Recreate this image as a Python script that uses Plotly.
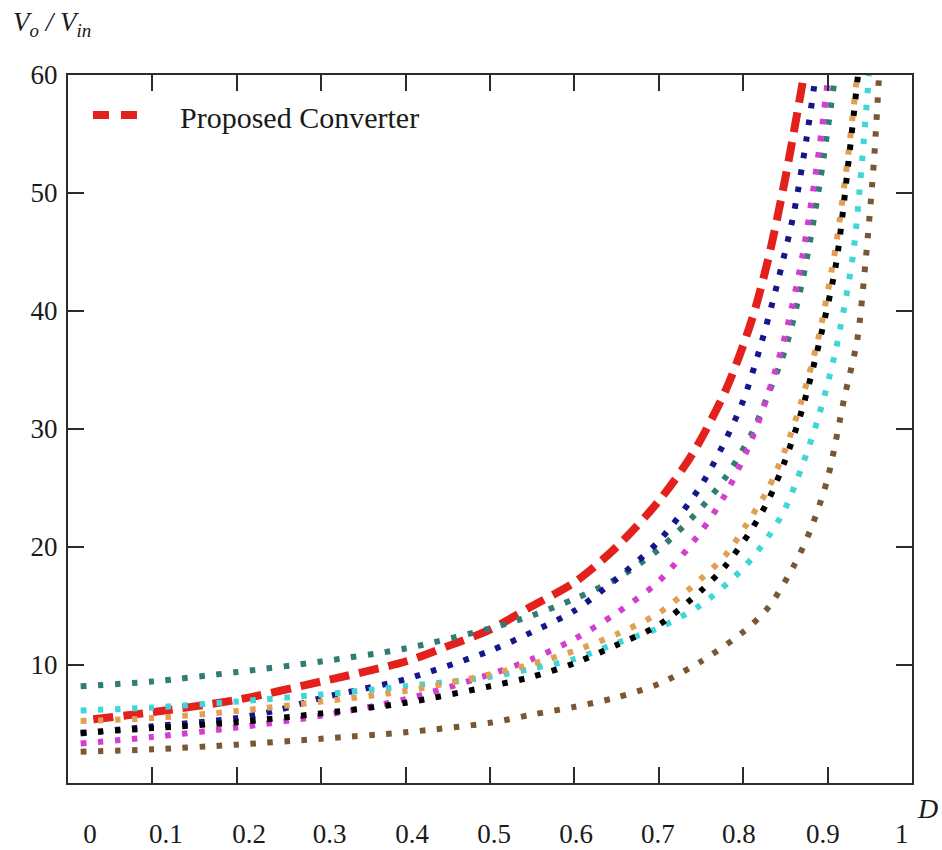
import plotly.graph_objects as go

# ---------------- data ----------------
# Proposed converter (red dashed)
d_prop = [0.03, 0.1, 0.2, 0.3, 0.4, 0.45, 0.5, 0.55, 0.6, 0.65, 0.7, 0.74, 0.78, 0.81, 0.83, 0.85, 0.872]
v_prop = [5.4, 6.0, 7.05, 8.6, 10.3, 11.6, 13.0, 15.0, 17.0, 20.0, 23.9, 27.9, 33.4, 39.2, 44.5, 51.3, 60.0]

# teal dotted
d_teal = [0.015, 0.1, 0.2, 0.3, 0.4, 0.5, 0.55, 0.6, 0.65, 0.7, 0.75, 0.78, 0.81, 0.83, 0.85, 0.87, 0.89, 0.909]
v_teal = [8.2, 8.6, 9.4, 10.3, 11.4, 13.1, 14.2, 15.6, 17.3, 19.8, 23.3, 26.0, 29.6, 33.0, 36.8, 42.5, 50.5, 60.0]

# navy dotted
d_navy = [0.015, 0.1, 0.2, 0.25, 0.3, 0.4, 0.5, 0.55, 0.6, 0.65, 0.7, 0.75, 0.78, 0.8, 0.82, 0.84, 0.86, 0.875, 0.886]
v_navy = [4.2, 4.8, 5.5, 6.2, 7.2, 8.8, 11.2, 12.8, 14.6, 17.3, 20.5, 25.2, 29.2, 32.4, 36.9, 42.2, 48.3, 54.6, 60.0]

# magenta dotted
d_magenta = [0.015, 0.1, 0.2, 0.3, 0.4, 0.5, 0.55, 0.6, 0.65, 0.7, 0.75, 0.78, 0.81, 0.83, 0.85, 0.87, 0.89, 0.901]
v_magenta = [3.35, 3.9, 4.7, 5.7, 7.1, 9.2, 10.5, 12.2, 14.4, 17.1, 21.3, 24.6, 29.1, 33.1, 38.0, 44.6, 53.7, 60.0]

# orange dotted
d_orange = [0.015, 0.1, 0.2, 0.3, 0.4, 0.5, 0.55, 0.6, 0.65, 0.7, 0.75, 0.78, 0.81, 0.83, 0.85, 0.87, 0.89, 0.91, 0.925, 0.935]
v_orange = [5.25, 5.5, 6.1, 6.9, 7.8, 9.2, 10.1, 11.2, 12.6, 14.4, 17.3, 19.4, 22.6, 25.0, 28.3, 32.6, 38.0, 45.6, 53.6, 60.0]

# black dotted
d_black = [0.015, 0.1, 0.2, 0.3, 0.4, 0.5, 0.55, 0.6, 0.65, 0.7, 0.75, 0.78, 0.81, 0.83, 0.85, 0.87, 0.89, 0.91, 0.925, 0.936]
v_black = [4.25, 4.65, 5.15, 5.9, 6.8, 8.2, 9.0, 10.15, 11.7, 13.4, 16.3, 18.5, 21.5, 24.0, 27.4, 31.7, 37.3, 44.0, 52.8, 60.0]

# cyan dotted
d_cyan = [0.015, 0.1, 0.2, 0.3, 0.4, 0.5, 0.55, 0.6, 0.65, 0.7, 0.75, 0.8, 0.83, 0.85, 0.87, 0.89, 0.91, 0.93, 0.94, 0.949]
v_cyan = [6.15, 6.4, 6.9, 7.5, 8.2, 9.0, 9.7, 10.5, 11.85, 13.15, 15.1, 18.2, 20.9, 23.3, 26.9, 31.2, 36.8, 44.7, 52.0, 60.0]

# brown dotted
d_brown = [0.015, 0.1, 0.2, 0.3, 0.4, 0.5, 0.55, 0.6, 0.65, 0.7, 0.75, 0.8, 0.83, 0.86, 0.88, 0.9, 0.92, 0.935, 0.945, 0.955, 0.961]
v_brown = [2.65, 2.85, 3.25, 3.75, 4.3, 5.1, 5.8, 6.45, 7.25, 8.4, 10.3, 12.8, 14.9, 18.4, 21.5, 25.8, 32.7, 37.5, 44.2, 52.8, 60.0]

x_ticks = [0.1, 0.2, 0.3, 0.4, 0.5, 0.6, 0.7, 0.8, 0.9]
x_tick_labels = ["0", "0.1", "0.2", "0.3", "0.4", "0.5", "0.6", "0.7", "0.8", "0.9", "1"]
y_ticks = [10, 20, 30, 40, 50, 60]
y_tick_labels = ["10", "20", "30", "40", "50", "60"]
legend_name = "Proposed Converter"

# ---------------- layout constants ----------------
x_label_pos = [0.026, 0.116, 0.2145, 0.310, 0.4076, 0.505, 0.602, 0.699, 0.795, 0.8945, 0.988]
FONT = "Liberation Serif"
AX = "#2b2b2b"

fig = go.Figure()

fig.add_trace(go.Scatter(
    x=d_prop, y=v_prop, mode="lines", name=legend_name, showlegend=False,
    line=dict(color="#e3201b", width=8, dash="20px,10px", shape="spline", smoothing=0.8),
))

dotted = [
    (d_teal, v_teal, "#2f7d74"),
    (d_navy, v_navy, "#16168c"),
    (d_magenta, v_magenta, "#d23fd0"),
    (d_cyan, v_cyan, "#3ed6d8"),
    (d_orange, v_orange, "#e29f52"),
    (d_black, v_black, "#000000"),
    (d_brown, v_brown, "#7a5732"),
]
for dx, vy, col in dotted:
    fig.add_trace(go.Scatter(
        x=dx, y=vy, mode="lines", showlegend=False,
        line=dict(color=col, width=6, dash="5.5px,11.5px", shape="spline", smoothing=0.8),
    ))

fig.update_layout(
    width=942, height=850, autosize=False,
    margin=dict(l=68, r=30, t=75, b=67, autoexpand=False),
    paper_bgcolor="white", plot_bgcolor="white",
    font=dict(family=FONT, size=27, color="#1a1a1a"),
    showlegend=False,
    xaxis=dict(
        range=[0, 1], showline=True, linewidth=2, linecolor=AX, mirror="ticks",
        tickvals=x_ticks, ticks="inside", ticklen=16, tickwidth=2, tickcolor=AX,
        showticklabels=False, showgrid=False, zeroline=False, automargin=False,
    ),
    xaxis2=dict(
        range=[0, 1], overlaying="x", anchor="y", side="bottom",
        tickvals=x_label_pos, ticktext=x_tick_labels, ticks="", showline=False,
        showgrid=False, zeroline=False, ticklabelstandoff=32, automargin=False,
        tickfont=dict(family=FONT, size=27, color="#1a1a1a"),
    ),
    yaxis=dict(
        range=[0, 60], showline=True, linewidth=2, linecolor=AX, mirror="ticks",
        tickvals=y_ticks, ticktext=y_tick_labels, ticks="inside", ticklen=16, tickwidth=2,
        tickcolor=AX, showgrid=False, zeroline=False, ticklabelstandoff=3, automargin=False,
        tickfont=dict(family=FONT, size=27, color="#1a1a1a"),
    ),
)

# invisible trace that activates the label axis
fig.add_trace(go.Scatter(x=[None], y=[None], xaxis="x2", yaxis="y", showlegend=False, hoverinfo="skip"))

# legend key (drawn manually to match the reference key)
fig.add_shape(type="line", xref="paper", yref="paper", x0=0.0296, x1=0.0818, y0=0.9435, y1=0.9435,
              line=dict(color="#e3201b", width=8, dash="16px,12px"))
fig.add_annotation(text=legend_name, xref="paper", yref="paper", x=0.1303, y=0.9393,
                   xanchor="left", yanchor="middle", showarrow=False,
                   font=dict(family=FONT, size=30, color="#1a1a1a"))

# axis titles
fig.add_annotation(text="<i>V<sub>o</sub> / V<sub>in</sub></i>", xref="paper", yref="paper",
                   x=-0.068, y=1.072, xanchor="left", yanchor="middle", showarrow=False,
                   font=dict(family=FONT, size=27, color="#1a1a1a"))
fig.add_annotation(text="<i>D</i>", xref="paper", yref="paper",
                   x=1.0178, y=-0.036, xanchor="center", yanchor="middle", showarrow=False,
                   font=dict(family=FONT, size=28, color="#1a1a1a"))

fig.write_html("out.html")
